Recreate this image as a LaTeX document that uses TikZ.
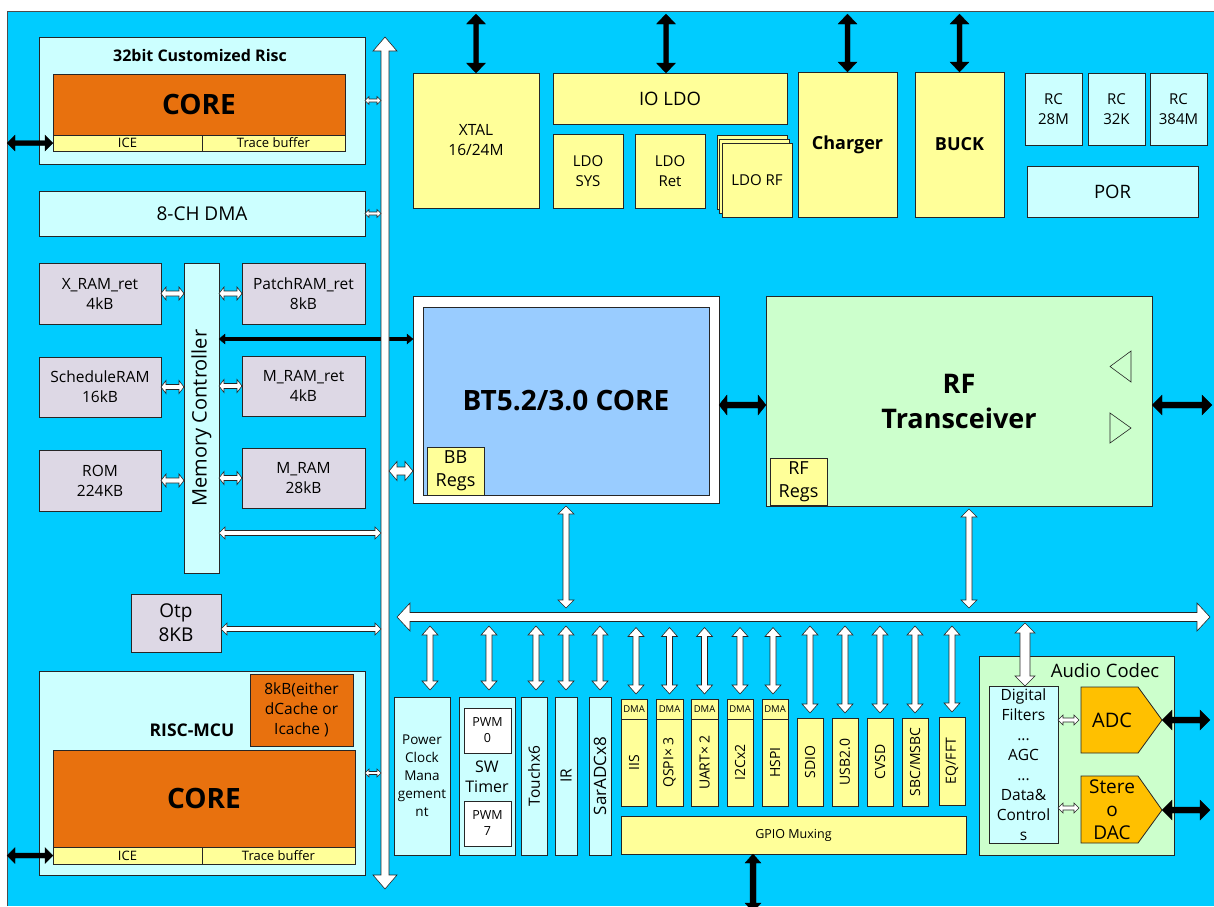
\documentclass[tikz,border=0pt]{standalone}
\usepackage{fontspec}
\setmainfont{Open Sans}
\usetikzlibrary{calc}
\definecolor{bgblue}{HTML}{00CCFF}
\definecolor{lcyan}{HTML}{CCFFFF}
\definecolor{orng}{HTML}{E8710E}
\definecolor{yel}{HTML}{FFFF99}
\definecolor{lav}{HTML}{DDD8E5}
\definecolor{btblue}{HTML}{99CCFF}
\definecolor{rfgreen}{HTML}{CCFFCC}
\definecolor{adcor}{HTML}{FFC000}
\newcommand\fs[2]{\fontsize{#1}{#2}\selectfont}
\newcommand\bx[7]{\node[#1, anchor=north west, minimum width={(#5-#3)*1pt}, minimum height={(#6-#4)*1pt}] (#2) at (#3,#4) {#7};}
% block double arrow: style, from, to, half shaft, half head, head length
\newcommand\barrow[6]{%
\path[#1] let \p1=#2, \p2=#3, \p3=($(\p1)!#6pt!(\p2)$), \p4=($(\p2)!#6pt!(\p1)$) in
 (\p1) -- ($(\p3)!#5pt!90:(\p2)$) -- ($(\p3)!#4pt!90:(\p2)$) -- ($(\p4)!#4pt!-90:(\p1)$) -- ($(\p4)!#5pt!-90:(\p1)$) -- (\p2)
 -- ($(\p4)!#5pt!90:(\p1)$) -- ($(\p4)!#4pt!90:(\p1)$) -- ($(\p3)!#4pt!-90:(\p2)$) -- ($(\p3)!#5pt!-90:(\p2)$) -- cycle;}
\tikzset{
 bx/.style={draw=black!85, line width=0.8pt, inner sep=0pt, outer sep=0pt, align=center},
 lc/.style={bx, fill=lcyan},
 yl/.style={bx, fill=yel},
 lv/.style={bx, fill=lav},
 og/.style={bx, fill=orng},
 sh/.style={draw=black!85, line width=0.8pt},
 wa/.style={draw=black!85, line width=0.6pt, fill=white},
 ka/.style={draw=black, line width=0.3pt, fill=black},
 lbl/.style={inner sep=0pt, align=center},
}
\begin{document}
\begin{tikzpicture}[x=1pt,y=-1pt]
\useasboundingbox (0,0) rectangle (1214,906);
\fill[white] (0,0) rectangle (1214,906);
\fill[bgblue] (7,11) rectangle (1214,906);
\draw[black!70, line width=1pt] (7,906) -- (7,11) -- (1214,11);

% ---------- top-left RISC ----------
\bx{lc}{risc}{39}{37}{365}{164}{}
\node[lbl, font=\bfseries\fs{16}{19}] (risct) at (200,55) {32bit Customized Risc};
\bx{og, font=\bfseries\fs{28}{30}}{core1}{53}{74}{345}{135}{CORE}
\bx{yl, font=\fs{13}{14}}{ice1}{53}{135}{202}{151}{ICE}
\bx{yl, font=\fs{13}{14}}{tr1}{202}{135}{345}{151}{Trace buffer}
\bx{lc, font=\fs{19}{22}}{dma}{39}{191}{365}{236}{8-CH DMA}

% ---------- memory ----------
\bx{lv, font=\fs{15.5}{20}}{xram}{39}{263}{161}{324}{X\_RAM\_ret\\4kB}
\bx{lv, font=\fs{15.5}{20}}{sched}{39}{357}{161}{417}{ScheduleRAM\\16kB}
\bx{lv, font=\fs{15.5}{20}}{rom}{39}{450}{161}{511}{ROM\\224KB}
\bx{lc}{memc}{184}{263}{219}{573}{}
\node[lbl, rotate=90, font=\fs{20}{22}] (memcl) at (memc.center) {Memory Controller};
\bx{lv, font=\fs{15.5}{20}}{patch}{242}{263}{365}{324}{PatchRAM\_ret\\8kB}
\bx{lv, font=\fs{15.5}{20}}{mret}{242}{356}{365}{416}{M\_RAM\_ret\\4kB}
\bx{lv, font=\fs{15.5}{20}}{mram}{242}{448}{365}{508}{M\_RAM\\28kB}
\bx{lv, font=\fs{19}{24}}{otp}{131}{594}{221}{652}{Otp\\8KB}

% ---------- RISC-MCU ----------
\bx{lc}{mcu}{39}{671}{365}{875}{}
\node[lbl, font=\bfseries\fs{17.5}{20}] (mcut) at (192,730) {RISC-MCU};
\bx{og, font=\fs{15.5}{20}}{cache}{250}{674}{353}{746}{8kB(either\\dCache or\\Icache )}
\bx{og, font=\bfseries\fs{28}{30}}{core2}{53}{750}{355}{847}{CORE}
\bx{yl, font=\fs{13}{14}}{ice2}{53}{847}{202}{864}{ICE}
\bx{yl, font=\fs{13}{14}}{tr2}{202}{847}{355}{864}{Trace buffer}

% ---------- top row ----------
\bx{yl, font=\fs{15.5}{20}}{xtal}{413}{73}{539}{208}{XTAL\\16/24M}
\bx{yl, font=\fs{18.5}{20}}{ioldo}{553}{73}{787}{124}{IO LDO}
\bx{yl, font=\fs{15}{20}}{ldosys}{553}{134}{623}{208}{LDO\\SYS}
\bx{yl, font=\fs{15}{20}}{ldoret}{635}{134}{705}{208}{LDO\\Ret}
\bx{yl}{ldorfa}{717}{135}{787}{209}{}
\bx{yl}{ldorfb}{719}{139}{789}{213}{}
\bx{yl, font=\fs{15}{18}}{ldorf}{722}{143}{792}{217}{LDO RF}
\bx{yl, font=\bfseries\fs{18}{20}}{charger}{798}{72}{897}{217}{Charger}
\bx{yl, font=\bfseries\fs{18}{20}}{buck}{915}{72}{1004}{217}{BUCK}
\bx{lc, font=\fs{15}{20}}{rca}{1025}{73}{1082}{145}{RC\\28M}
\bx{lc, font=\fs{15}{20}}{rcb}{1088}{73}{1145}{145}{RC\\32K}
\bx{lc, font=\fs{15}{20}}{rcc}{1150}{73}{1207}{145}{RC\\384M}
\bx{lc, font=\fs{18.5}{20}}{por}{1027}{166}{1198}{217}{POR}

% ---------- BT core ----------
\bx{bx, fill=white}{btout}{413}{296}{719}{503}{}
\bx{bx, fill=btblue, font=\bfseries\fs{28}{30}}{btin}{423}{307}{709}{495}{BT5.2/3.0 CORE}
\bx{yl, font=\fs{18}{23}}{bbregs}{427}{447}{484}{495}{BB\\Regs}

% ---------- RF ----------
\bx{bx, fill=rfgreen, font=\bfseries\fs{27}{35}}{rf}{766}{296}{1152}{506}{RF\\Transceiver}
\bx{yl, font=\fs{18}{23}}{rfregs}{770}{458}{827}{505}{RF\\Regs}
\draw[sh, line width=0.6pt] (1131,351) -- (1131,382) -- (1110,366.5) -- cycle;
\draw[sh, line width=0.6pt] (1110,413) -- (1110,443) -- (1131,428) -- cycle;

% ---------- peripherals ----------
\bx{lc, font=\fs{13.5}{18}}{pcm}{394}{697}{450}{855}{Power\\Clock\\Mana\\gement\\nt}
\bx{lc}{sw}{459}{697}{515}{855}{}
\bx{bx, fill=white, font=\fs{12.5}{16}}{pwma}{464}{708}{511}{753}{PWM\\0}
\bx{bx, fill=white, font=\fs{12.5}{16}}{pwmb}{464}{801}{511}{846}{PWM\\7}
\node[lbl, font=\fs{16}{20}] (swl) at (487,777) {SW\\Timer};
\bx{lc}{touch}{521}{697}{547}{855}{}
\node[lbl, rotate=90, font=\fs{15.5}{18}] (touchl) at (touch.center) {Touchx6};
\bx{lc}{ir}{555}{697}{577}{855}{}
\node[lbl, rotate=90, font=\fs{15.5}{18}] (irl) at (ir.center) {IR};
\bx{lc}{sar}{589}{697}{611}{855}{}
\node[lbl, rotate=90, font=\fs{17}{18}] (sarl) at (sar.center) {SarADCx8};

\bx{yl, font=\fs{9.5}{10}}{iisd}{621}{699}{647}{719}{DMA}
\bx{yl}{iis}{621}{719}{647}{806}{}
\node[lbl, rotate=90, font=\fs{14}{16}] (iisl) at (iis.center) {IIS};
\bx{yl, font=\fs{9.5}{10}}{qspid}{656}{699}{683}{719}{DMA}
\bx{yl}{qspi}{656}{719}{683}{806}{}
\node[lbl, rotate=90, font=\fs{14}{16}] (qspil) at (qspi.center) {QSPI× 3};
\bx{yl, font=\fs{9.5}{10}}{uartd}{691}{699}{718}{719}{DMA}
\bx{yl}{uart}{691}{719}{718}{806}{}
\node[lbl, rotate=90, font=\fs{14}{16}] (uartl) at (uart.center) {UART× 2};
\bx{yl, font=\fs{9.5}{10}}{iicd}{727}{699}{753}{719}{DMA}
\bx{yl}{iic}{727}{719}{753}{806}{}
\node[lbl, rotate=90, font=\fs{14}{16}] (iicl) at (iic.center) {I2Cx2};
\bx{yl, font=\fs{9.5}{10}}{hspid}{762}{699}{788}{719}{DMA}
\bx{yl}{hspi}{762}{719}{788}{806}{}
\node[lbl, rotate=90, font=\fs{14}{16}] (hspil) at (hspi.center) {HSPI};

\bx{yl}{sdio}{797}{718}{823}{806}{}
\node[lbl, rotate=90, font=\fs{14}{16}] (sdiol) at (sdio.center) {SDIO};
\bx{yl}{usb}{832}{718}{858}{806}{}
\node[lbl, rotate=90, font=\fs{14}{16}] (usbl) at (usb.center) {USB2.0};
\bx{yl}{cvsd}{867}{718}{893}{806}{}
\node[lbl, rotate=90, font=\fs{14}{16}] (cvsdl) at (cvsd.center) {CVSD};
\bx{yl}{sbc}{902}{718}{928}{806}{}
\node[lbl, rotate=90, font=\fs{14}{16}] (sbcl) at (sbc.center) {SBC/MSBC};
\bx{yl}{eqf}{939}{717}{965}{805}{}
\node[lbl, rotate=90, font=\fs{14}{16}] (eqfl) at (eqf.center) {EQ/FFT};

\bx{yl, font=\fs{12.5}{14}}{gpio}{621}{816}{966}{854}{GPIO Muxing}

% ---------- audio codec ----------
\bx{bx, fill=rfgreen}{codec}{979}{656}{1174}{855}{}
\node[lbl, font=\fs{18.5}{20}] (codect) at (1105,671) {Audio Codec};
\bx{lc, font=\fs{15.5}{20}}{df}{989}{686}{1058}{843}{Digital\\Filters\\...\\AGC\\...\\Data\&\\Control\\s}
\draw[sh, fill=adcor] (1081,687) -- (1138,687) -- (1162,720) -- (1138,753) -- (1081,753) -- cycle;
\node[lbl, font=\fs{20}{22}] (adc) at (1112,720) {ADC};
\coordinate (adctip) at (1162,720);
\draw[sh, fill=adcor] (1081,776) -- (1138,776) -- (1162,810) -- (1138,843) -- (1081,843) -- cycle;
\node[lbl, font=\fs{19}{23}] (dac) at (1112,810) {Stere\\o\\DAC};
\coordinate (dactip) at (1162,810);

% ---------- memory controller to BT (under the bus) ----------
\coordinate (memcbt) at ($(memc.north east)+(0,76)$);
\barrow{ka}{(memcbt)}{(memcbt -| btout.west)}{1.8}{5}{6}

% ---------- buses ----------
\coordinate (vbT) at (385,37);
\coordinate (vbB) at (385,889);
\coordinate (vbL) at (381,0);
\coordinate (vbR) at (389,0);
\coordinate (hbL) at (397,617);
\coordinate (hbR) at (1210,617);
\coordinate (hbTop) at (0,612.5);
\coordinate (hbBot) at (0,621.5);
\barrow{wa}{(vbT)}{(vbB)}{4}{12}{14}
\barrow{wa}{(hbL)}{(hbR)}{4.5}{14}{13}

% ---------- connectors left ----------
\barrow{wa}{(risc.east)}{(risc.east -| vbL)}{1.5}{4}{4}
\barrow{wa}{(dma.east)}{(dma.east -| vbL)}{1.5}{4}{4}
\barrow{wa}{(mcu.east)}{($(mcu.east -| vbL)$)}{1.5}{4}{4}
\barrow{ka}{(ice1.west)}{($(ice1.west)+(-46,0)$)}{2.5}{8}{8}
\barrow{ka}{(ice2.west)}{($(ice2.west)+(-46,0)$)}{2.5}{8}{8}

\barrow{wa}{(xram.east)}{(xram.east -| memc.west)}{2.5}{6.5}{5}
\barrow{wa}{(sched.east)}{(sched.east -| memc.west)}{2.5}{6.5}{5}
\barrow{wa}{(rom.east)}{(rom.east -| memc.west)}{2.5}{6.5}{5}
\barrow{wa}{(patch.west)}{(patch.west -| memc.east)}{2.5}{6.5}{5}
\barrow{wa}{(mret.west)}{(mret.west -| memc.east)}{2.5}{6.5}{5}
\barrow{wa}{(mram.west)}{(mram.west -| memc.east)}{2.5}{6.5}{5}
\coordinate (memcbus) at ($(memc.south east)+(0,-40)$);
\barrow{wa}{(memcbus)}{(memcbus -| vbL)}{2.5}{6}{6}
\coordinate (otpbus) at ($(otp.east)+(0,6)$);
\barrow{wa}{(otpbus)}{(otpbus -| vbL)}{2.5}{6}{6}
\barrow{wa}{(vbR |- bbregs.center)}{(btout.west |- bbregs.center)}{4}{9.5}{8}

% ---------- connectors top ----------
\barrow{ka}{(xtal.north)}{($(xtal.north)+(0,-59)$)}{2.5}{9.5}{10}
\barrow{ka}{($(ioldo.north)+(-4,0)$)}{($(ioldo.north)+(-4,-59)$)}{2.5}{9.5}{10}
\barrow{ka}{(charger.north)}{($(charger.north)+(0,-58)$)}{2.5}{9.5}{10}
\barrow{ka}{(buck.north)}{($(buck.north)+(0,-58)$)}{2.5}{9.5}{10}

% ---------- BT / RF ----------
\coordinate (btrf) at ($(btout.east)+(0,5.5)$);
\barrow{ka}{(btrf)}{(btrf -| rf.west)}{3}{10}{8}
\coordinate (rfant) at ($(rf.east)+(0,4)$);
\barrow{ka}{(rfant)}{($(rfant)+(60,0)$)}{3}{10}{10}
\barrow{wa}{($(btout.south)+(0,3)$)}{($(btout.south |- hbTop)+(0,-4.5)$)}{3}{8}{8}
\barrow{wa}{($(rf.south)+(10,3)$)}{($(rf.south |- hbTop)+(10,-4.5)$)}{3}{8}{8}

% ---------- peripheral connectors ----------
\barrow{wa}{($(pcm.north |- hbBot)+(8,4.5)$)}{($(pcm.north)+(8,-7)$)}{3}{8}{9}
\barrow{wa}{($(sw.north |- hbBot)+(2,4.5)$)}{($(sw.north)+(2,-7)$)}{3}{8}{9}
\barrow{wa}{($(touch.north |- hbBot)+(2,4.5)$)}{($(touch.north)+(2,-7)$)}{3}{8}{9}
\barrow{wa}{($(ir.north |- hbBot)+(0,4.5)$)}{($(ir.north)+(0,-7)$)}{3}{8}{9}
\barrow{wa}{($(sar.north |- hbBot)+(0,4.5)$)}{($(sar.north)+(0,-7)$)}{3}{8}{9}
\barrow{wa}{($(iisd.north |- hbBot)+(2,6)$)}{($(iisd.north)+(2,-5)$)}{3}{8}{9}
\barrow{wa}{($(qspid.north |- hbBot)+(0,6)$)}{($(qspid.north)+(0,-5)$)}{3}{8}{9}
\barrow{wa}{($(uartd.north |- hbBot)+(0,6)$)}{($(uartd.north)+(0,-5)$)}{3}{8}{9}
\barrow{wa}{($(iicd.north |- hbBot)+(0,6)$)}{($(iicd.north)+(0,-5)$)}{3}{8}{9}
\barrow{wa}{($(hspid.north |- hbBot)+(-2,6)$)}{($(hspid.north)+(-2,-5)$)}{3}{8}{9}
\barrow{wa}{($(sdio.north |- hbBot)+(0,4.5)$)}{($(sdio.north)+(0,-5)$)}{3}{8}{9}
\barrow{wa}{($(usb.north |- hbBot)+(0,4.5)$)}{($(usb.north)+(0,-5)$)}{3}{8}{9}
\barrow{wa}{($(cvsd.north |- hbBot)+(0,4.5)$)}{($(cvsd.north)+(0,-5)$)}{3}{8}{9}
\barrow{wa}{($(sbc.north |- hbBot)+(0,4.5)$)}{($(sbc.north)+(0,-5)$)}{3}{8}{9}
\barrow{wa}{($(eqf.north |- hbBot)+(0,4.5)$)}{($(eqf.north)+(0,-5)$)}{3}{8}{9}
\barrow{wa}{($(df.north |- hbBot)+(1.5,1.5)$)}{($(df.north)+(1.5,0)$)}{5}{10}{10}
\coordinate (gpioout) at ($(gpio.south)+(-40.5,58)$);
\barrow{ka}{($(gpio.south)+(-40.5,0)$)}{(gpioout)}{3}{8}{9}

% ---------- audio connectors ----------
\barrow{wa}{(df.east |- adctip)}{($(adctip)+(-83,0)$)}{2}{5}{5}
\barrow{wa}{($(df.east |- dactip)+(0,-2)$)}{($(dactip)+(-83,-2)$)}{2}{5}{5}
\barrow{ka}{(adctip)}{($(adctip)+(48,0)$)}{3}{10}{10}
\barrow{ka}{(dactip)}{($(dactip)+(48,0)$)}{3}{10}{10}
\end{tikzpicture}
\end{document}
